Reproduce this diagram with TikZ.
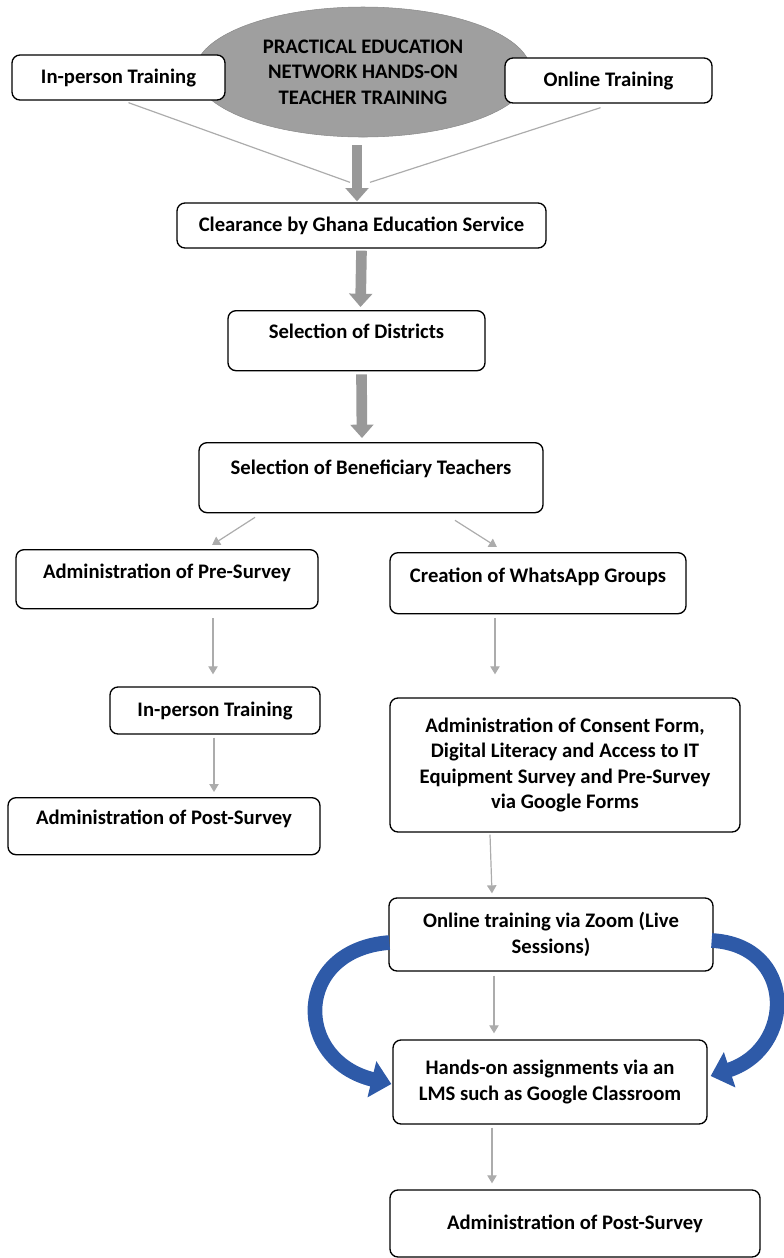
\documentclass[tikz,border=0pt]{standalone}
\usepackage{fontspec}
\setmainfont{Carlito}
\usetikzlibrary{arrows.meta, shapes.geometric, calc}
\definecolor{zoomblue}{RGB}{46,90,168}

\begin{document}
\begin{tikzpicture}[x=0.75pt, y=-0.75pt,
    every node/.style={font=\fontsize{15.5}{19}\selectfont\bfseries, inner sep=0pt},
    stage/.style={draw=black, line width=1pt, rounded corners=6pt, align=center, fill=white},
    greyline/.style={draw=gray!65, line width=0.9pt},
    greyarrow/.style={greyline, -{Triangle[width=7pt,length=6pt]}},
    bigarrow/.style={draw=gray!80, line width=8pt, -{Triangle[width=17pt,length=10pt]}},
    bluecurve/.style={draw=zoomblue, line width=11pt, -{Triangle[width=27pt,length=15pt]}}]
    \useasboundingbox (0,0) rectangle (783,1258);

    % top of the chart
    \node[ellipse, fill=gray!75, draw=gray!90, minimum width=252pt, minimum height=97.5pt, align=center] (pen) at (363,72)
        {PRACTICAL EDUCATION\\NETWORK HANDS-ON\\TEACHER TRAINING};
    \node[stage, minimum width=159.75pt, minimum height=33.75pt] (inperson0) at (118.5,77.5) {In-person Training};
    \node[stage, minimum width=155.25pt, minimum height=33.75pt] (online0) at (608.5,80.5) {Online Training};
    \node[stage, minimum width=276.75pt, minimum height=33.75pt] (clear) at (361.5,225.5) {Clearance by Ghana Education Service};
    \node[stage, anchor=north, minimum width=192.75pt, text height=21pt, text depth=24pt] (districts) at (356.5,310) {Selection of Districts};
    \node[stage, anchor=north, minimum width=258pt, text height=24pt, text depth=28.5pt] (teachers) at (371,442) {Selection of Beneficiary Teachers};

    % in-person branch
    \node[stage, anchor=north, minimum width=226.5pt, text height=21.75pt, text depth=22.5pt] (pre) at (167,549) {Administration of Pre-Survey};
    \node[stage, minimum width=157.5pt, minimum height=35.25pt] (inperson) at (215,710.5) {In-person Training};
    \node[stage, anchor=north, minimum width=234pt, text height=20.25pt, text depth=22.5pt] (postleft) at (164,797) {Administration of Post-Survey};

    % online branch
    \node[stage, anchor=north, minimum width=222pt, text height=22.5pt, text depth=23.25pt] (whatsapp) at (538,552) {Creation of WhatsApp Groups};
    \node[stage, minimum width=262.5pt, minimum height=100.5pt] (consent) at (565,765)
        {Administration of Consent Form,\\Digital Literacy and Access to IT\\Equipment Survey and Pre-Survey\\via Google Forms};
    \node[stage, minimum width=243pt, minimum height=54.75pt] (zoomlive) at (551,934.5) {Online training via Zoom (Live\\Sessions)};
    \node[stage, minimum width=235.5pt, minimum height=63pt] (handson) at (550,1082) {Hands-on assignments via an\\LMS such as Google Classroom};
    \node[stage, minimum width=277.5pt, minimum height=50.25pt] (postright) at (575,1223.5) {Administration of Post-Survey};

    % connectors
    \draw[greyline] ($(inperson0.south)+(10,2)$) -- ($(clear.north)+(-11.5,-20)$);
    \draw[greyline] ($(online0.south)+(-8,4)$) -- ($(clear.north)+(8.5,-20)$);
    \draw[bigarrow] ($(pen.south)+(-6,8)$) -- ($(clear.north)+(-4.5,-1)$);
    \draw[bigarrow] ($(clear.south)+(0,2)$) -- ($(districts.north)+(4,-3)$);
    \draw[bigarrow] ($(districts.south)+(5,3)$) -- ($(teachers.north)+(-9,-4)$);

    \draw[greyarrow] ($(teachers.south)+(-116,4)$) -- ($(pre.north)+(45,-4)$);
    \draw[greyarrow] ($(teachers.south)+(84,7)$) -- ($(whatsapp.north)+(-41,-5)$);
    \draw[greyarrow] ($(pre.south)+(46,9)$) -- ($(inperson.north)+(-2,-12)$);
    \draw[greyarrow] ($(inperson.south)+(-1,3)$) -- ($(postleft.north)+(50,-5)$);
    \draw[greyarrow] ($(whatsapp.south)+(-43,4)$) -- ($(consent.north)+(-70,-23)$);
    \draw[greyarrow] ($(consent.south)+(-75,2)$) -- ($(zoomlive.north)+(-59,-4)$);
    \draw[greyarrow] ($(zoomlive.south)+(-57,4)$) -- ($(handson.north)+(-56,-6)$);
    \draw[greyarrow] ($(handson.south)+(-58,3)$) -- ($(postright.north)+(-83,-6)$);

    \draw[bluecurve] ($(zoomlive.west)+(1,8)$) .. controls (293,950) and (293,1060) .. ($(handson.west)+(-1,2)$);
    \draw[bluecurve] ($(zoomlive.east)+(-2,6)$) .. controls (796,945) and (796,1048) .. ($(handson.east)+(3,-6)$);
\end{tikzpicture}
\end{document}
